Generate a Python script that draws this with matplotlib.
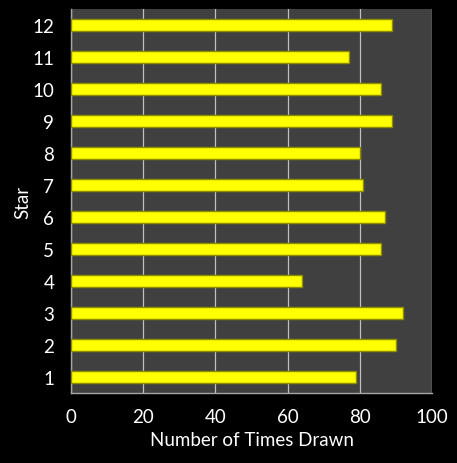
import matplotlib
matplotlib.use("Agg")
import matplotlib.pyplot as plt

stars = ['1', '2', '3', '4', '5', '6', '7', '8', '9', '10', '11', '12']
times_drawn = [79, 90, 92, 64, 86, 87, 81, 80, 89, 86, 77, 89]
x_ticks = [0, 20, 40, 60, 80, 100]

plt.rcParams['font.family'] = ['Lato', 'DejaVu Sans']

fig = plt.figure(figsize=(4.57, 4.64), dpi=100, facecolor='black')
ax = fig.add_axes([0.1554, 0.1509, 0.7899, 0.8272])
ax.set_facecolor('#404040')

pos = list(range(1, len(stars) + 1))
ax.barh(pos, times_drawn, height=0.375, color='#ffff00', edgecolor='#8c8c00', linewidth=1, zorder=3)

ax.set_xlim(0, 100)
ax.set_ylim(0.5, 12.5)
ax.set_xticks(x_ticks)
ax.set_yticks(pos)
ax.set_yticklabels(stars)
ax.xaxis.grid(True, color='#bfbfbf', linewidth=0.9, zorder=1)
ax.tick_params(axis='both', length=0, colors='white', labelsize=13.5)
ax.tick_params(axis='x', pad=11)
ax.tick_params(axis='y', pad=12)

for side in ['top', 'right']:
    ax.spines[side].set_visible(False)
for side in ['left', 'bottom']:
    ax.spines[side].set_color('#a6a6a6')
    ax.spines[side].set_linewidth(1)

ax.set_xlabel('Number of Times Drawn', color='white', fontsize=13.5, labelpad=4)
ax.set_ylabel('Star', color='white', fontsize=13.5, labelpad=1)

fig.savefig('out.png', dpi=100, facecolor='black')
